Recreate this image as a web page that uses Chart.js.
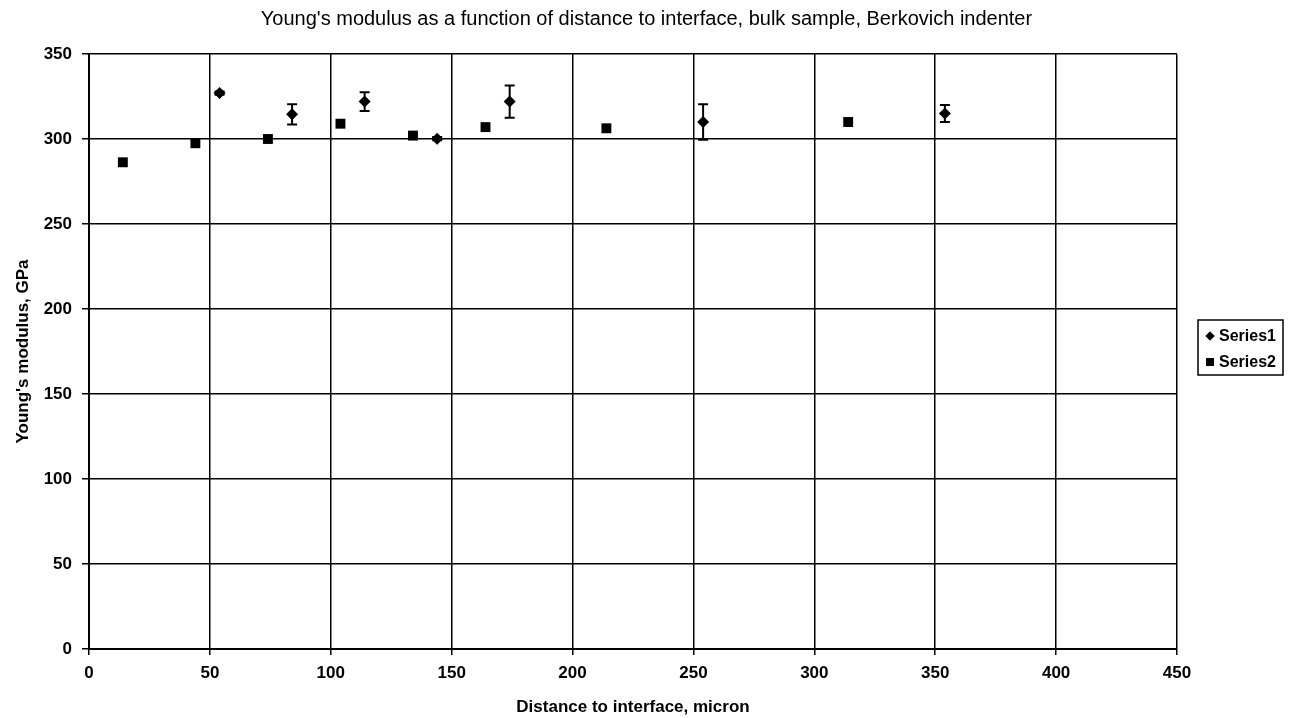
<!DOCTYPE html>
<html>
<head>
<meta charset="utf-8">
<script src="https://cdn.jsdelivr.net/npm/chart.js@4/dist/chart.umd.min.js"></script>
<style>
  html, body { margin: 0; padding: 0; background: #fff; }
  #wrap { width: 1293px; height: 718px; position: relative; }
</style>
</head>
<body>
<div id="wrap"><canvas id="modulusChart"></canvas></div>
<script>
// Series1 (diamonds, with error bars)
const series1X = [54, 84, 114, 144, 174, 254, 354];
const series1Y = [327, 314.5, 322, 300.2, 322, 310, 315];
const series1Err = [1, 6, 5.5, 1, 9.5, 10.5, 5];

// Series2 (squares)
const series2X = [14, 44, 74, 104, 134, 164, 214, 314];
const series2Y = [286.3, 297.5, 300, 309, 302, 307, 306.3, 310];

const xTicks = [0, 50, 100, 150, 200, 250, 300, 350, 400, 450];
const yTicks = [0, 50, 100, 150, 200, 250, 300, 350];

const FONT = "'Liberation Sans', Arial, sans-serif";

function toPoints(xs, ys) {
    return xs.map((x, i) => ({ x: x, y: ys[i] }));
}

// draws vertical error bars with caps for datasets that carry an errors array
const errorBarPlugin = {
    id: 'errorBars',
    afterDatasetsDraw(chart) {
        const ctx = chart.ctx;
        const xs = chart.scales.x;
        const ys = chart.scales.y;
        chart.data.datasets.forEach(ds => {
            if (!ds.errors) return;
            ctx.save();
            ctx.strokeStyle = '#000';
            ctx.lineWidth = 2;
            ds.data.forEach((p, i) => {
                const e = ds.errors[i];
                const px = xs.getPixelForValue(p.x);
                const top = ys.getPixelForValue(p.y + e);
                const bot = ys.getPixelForValue(p.y - e);
                ctx.beginPath();
                ctx.moveTo(px, top);
                ctx.lineTo(px, bot);
                ctx.moveTo(px - 5, top);
                ctx.lineTo(px + 5, top);
                ctx.moveTo(px - 5, bot);
                ctx.lineTo(px + 5, bot);
                ctx.stroke();
            });
            ctx.restore();
        });
    }
};

// Excel style boxed legend on the right
const boxLegendPlugin = {
    id: 'boxLegend',
    afterDraw(chart) {
        const ctx = chart.ctx;
        const left = 1198, top = 320, w = 85, h = 55;
        ctx.save();
        ctx.strokeStyle = '#000';
        ctx.lineWidth = 1.5;
        ctx.strokeRect(left, top, w, h);
        ctx.font = 'bold 16px ' + FONT;
        ctx.textBaseline = 'middle';
        ctx.fillStyle = '#000';
        chart.data.datasets.forEach((ds, i) => {
            const cy = top + 16 + i * 26;
            Chart.helpers.drawPoint(ctx, {
                pointStyle: ds.pointStyle,
                radius: ds.pointStyle === 'rect' ? 5.5 : 4.5,
                borderWidth: 0
            }, left + 12, cy);
            ctx.fillStyle = '#000';
            ctx.fill();
            ctx.fillText(ds.label, left + 21, cy + 1);
        });
        ctx.restore();
    }
};

const ctx = document.getElementById('modulusChart').getContext('2d');
new Chart(ctx, {
    type: 'scatter',
    data: {
        datasets: [
            {
                label: 'Series1',
                data: toPoints(series1X, series1Y),
                errors: series1Err,
                pointStyle: 'rectRot',
                pointRadius: 6,
                backgroundColor: '#000',
                borderColor: '#000',
                borderWidth: 0
            },
            {
                label: 'Series2',
                data: toPoints(series2X, series2Y),
                pointStyle: 'rect',
                pointRadius: 7,
                backgroundColor: '#000',
                borderColor: '#000',
                borderWidth: 0
            }
        ]
    },
    options: {
        responsive: true,
        maintainAspectRatio: false,
        animation: false,
        layout: { padding: 0 },
        plugins: {
            legend: { display: false },
            tooltip: { enabled: false },
            title: {
                display: true,
                text: "Young's modulus as a function of distance to interface, bulk sample, Berkovich indenter",
                color: '#000',
                font: { family: FONT, size: 20, weight: 'normal' },
                padding: { top: 7, bottom: 23 }
            }
        },
        scales: {
            x: {
                type: 'linear',
                min: 0,
                max: 450,
                afterBuildTicks(scale) { scale.ticks = xTicks.map(v => ({ value: v })); },
                afterFit(scale) { scale.height = 69; },
                grid: { color: '#000', lineWidth: 1.5, tickLength: 6 },
                border: { color: '#000', width: 2 },
                ticks: { color: '#000', font: { family: FONT, size: 17, weight: 'bold' }, padding: 8, maxRotation: 0 },
                title: {
                    display: true,
                    text: 'Distance to interface, micron',
                    color: '#000',
                    font: { family: FONT, size: 17, weight: 'bold' },
                    padding: { top: 0, bottom: 0 }
                }
            },
            y: {
                min: 0,
                max: 350,
                afterBuildTicks(scale) { scale.ticks = yTicks.map(v => ({ value: v })); },
                afterFit(scale) { scale.width = 89; },
                grid: { color: '#000', lineWidth: 1.5, tickLength: 7 },
                border: { color: '#000', width: 2 },
                ticks: { color: '#000', font: { family: FONT, size: 17, weight: 'bold' }, padding: 10 },
                title: {
                    display: true,
                    text: "Young's modulus, GPa",
                    color: '#000',
                    font: { family: FONT, size: 17, weight: 'bold' },
                    padding: { top: 13, bottom: 0 }
                }
            },
            // empty right axis that reserves room for the legend box
            legendSpace: {
                position: 'right',
                min: 0,
                max: 350,
                afterFit(scale) { scale.width = 116; },
                grid: { display: false, drawTicks: false },
                border: { display: false },
                ticks: { display: false }
            }
        }
    },
    plugins: [errorBarPlugin, boxLegendPlugin]
});
</script>
</body>
</html>
